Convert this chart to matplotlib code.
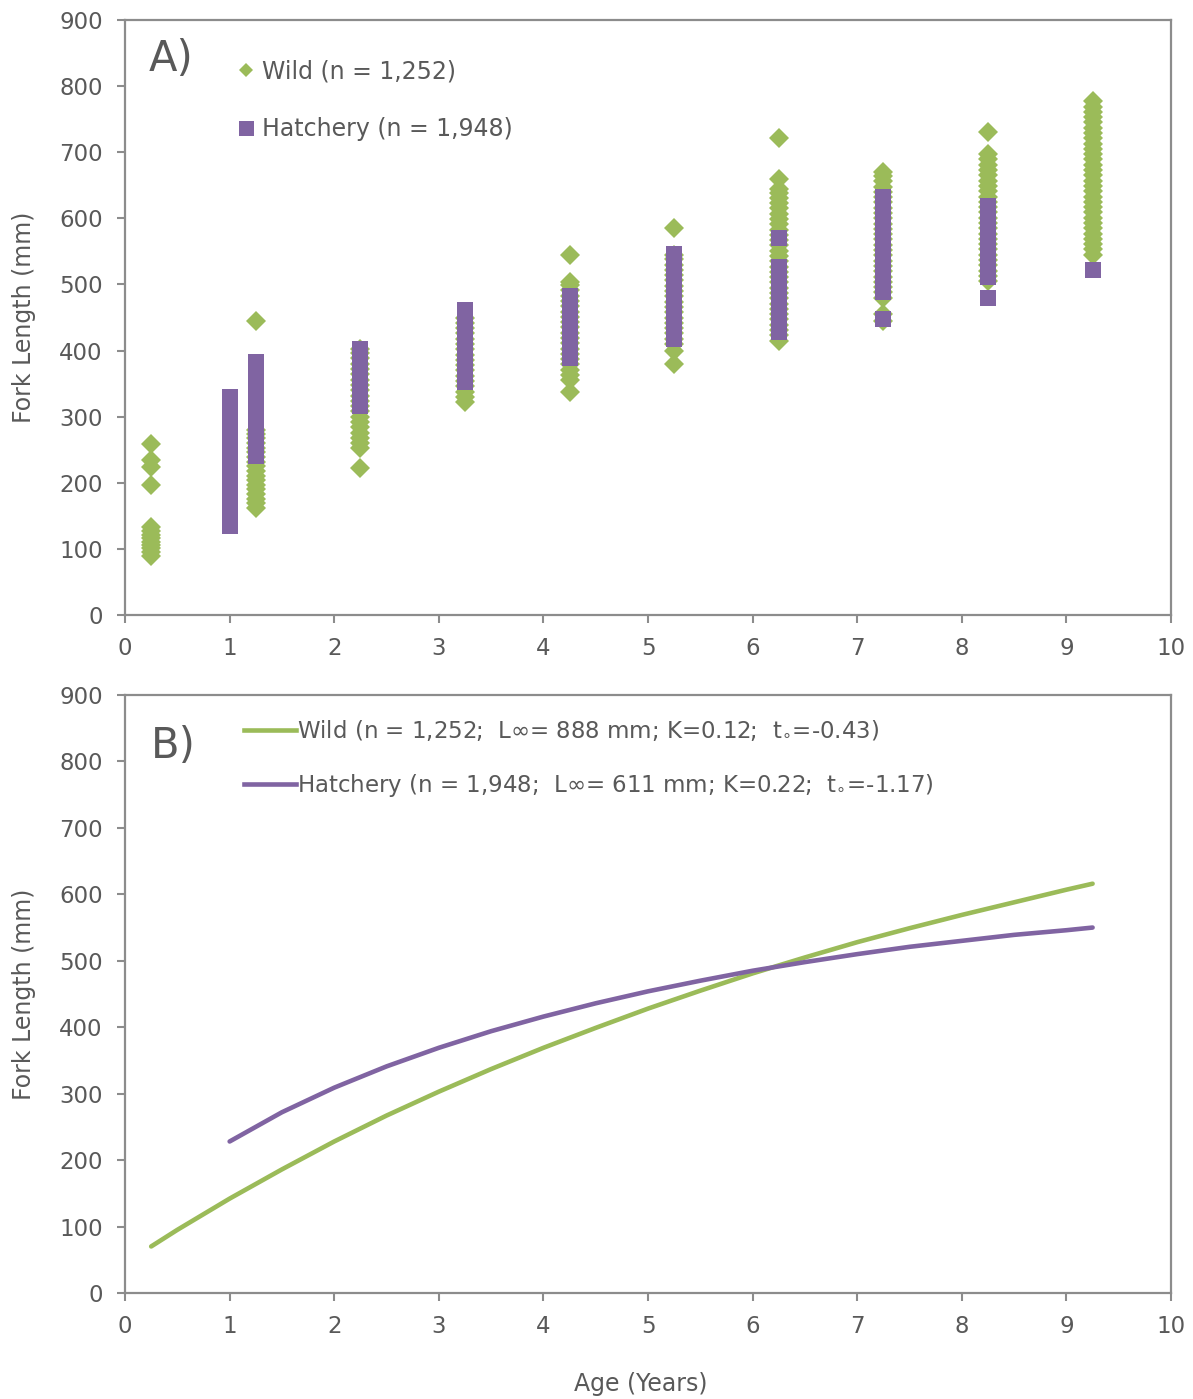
import numpy as np
import matplotlib.pyplot as plt
from matplotlib.lines import Line2D

# ---- data ----
wild_ages = [0.25, 1.25, 2.25, 3.25, 4.25, 5.25, 6.25, 7.25, 8.25, 9.25]
wild_lengths = [
    [90, 96, 101, 106, 111, 116, 121, 127, 133, 197, 224, 235, 258],
    [162, 169, 176, 183, 190, 197, 204, 211, 218, 225, 232, 239, 246, 253, 260, 267, 274, 280, 445],
    [222, 252, 260, 268, 276, 284, 292, 300, 308, 316, 324, 332, 340, 348, 356, 364, 372, 380, 388, 396, 403],
    [322, 330, 338, 346, 354, 362, 370, 378, 386, 394, 402, 410, 418, 426, 434, 442, 450],
    [337, 355, 363, 371, 379, 387, 395, 403, 411, 419, 427, 435, 443, 451, 459, 467, 475, 483, 491, 499, 503, 545],
    [380, 400, 410, 418, 426, 434, 442, 450, 458, 466, 474, 482, 490, 498, 506, 514, 522, 530, 538, 545, 585],
    [415, 423, 431, 439, 447, 455, 463, 471, 479, 487, 495, 503, 511, 519, 527, 535, 543, 551, 559, 567,
     575, 583, 591, 599, 607, 615, 623, 631, 639, 645, 660, 722],
    [445, 455, 480, 488, 496, 504, 512, 520, 528, 536, 544, 552, 560, 568, 576, 584, 592, 600, 608, 616,
     624, 632, 640, 648, 656, 664, 670],
    [505, 513, 521, 529, 537, 545, 553, 561, 569, 577, 585, 593, 601, 609, 617, 625, 633, 641, 649, 657,
     665, 673, 681, 689, 697, 730],
    [545, 553, 561, 569, 577, 585, 593, 601, 609, 617, 625, 633, 641, 649, 657, 665, 673, 681, 689, 697,
     705, 713, 721, 729, 737, 745, 753, 761, 769, 778],
]

hatch_ages = [1.0, 1.25, 2.25, 3.25, 4.25, 5.25, 6.25, 7.25, 8.25, 9.25]
hatch_lengths = [
    [135, 143, 151, 159, 167, 175, 183, 191, 199, 207, 215, 223, 231, 239, 247, 255, 263, 271, 279, 287,
     295, 303, 311, 319, 330],
    [240, 248, 256, 264, 272, 280, 288, 296, 304, 312, 320, 328, 336, 344, 352, 360, 368, 376, 383],
    [316, 324, 332, 340, 348, 356, 364, 372, 380, 388, 396, 402],
    [352, 360, 368, 376, 384, 392, 400, 408, 416, 424, 432, 440, 448, 456, 462],
    [388, 396, 404, 412, 420, 428, 436, 444, 452, 460, 468, 476, 482],
    [418, 426, 434, 442, 450, 458, 466, 474, 482, 490, 498, 506, 514, 522, 530, 538, 546],
    [428, 436, 444, 452, 460, 468, 476, 484, 492, 500, 508, 516, 526, 570],
    [448, 488, 496, 504, 512, 520, 528, 536, 544, 552, 560, 568, 576, 584, 592, 600, 608, 616, 624, 632],
    [480, 512, 520, 528, 536, 544, 552, 560, 568, 576, 584, 592, 600, 608, 618],
    [522],
]

# growth curves
curve_age_wild = [0.25, 0.5, 1.0, 1.5, 2.0, 2.5, 3.0, 3.5, 4.0, 4.5, 5.0, 5.5, 6.0, 6.5, 7.0, 7.5, 8.0, 8.5, 9.0, 9.25]
curve_fl_wild = [70, 95, 142, 186, 228, 267, 303, 337, 369, 399, 428, 455, 481, 505, 528, 549, 569, 588, 607, 616]
curve_age_hatch = [1.0, 1.5, 2.0, 2.5, 3.0, 3.5, 4.0, 4.5, 5.0, 5.5, 6.0, 6.5, 7.0, 7.5, 8.0, 8.5, 9.0, 9.25]
curve_fl_hatch = [228, 272, 309, 341, 369, 394, 416, 436, 454, 470, 485, 498, 510, 521, 530, 539, 546, 550]

wild_label_a = "Wild (n = 1,252)"
hatch_label_a = "Hatchery (n = 1,948)"
wild_label_b = "Wild (n = 1,252;  L\u221e= 888 mm; K=0.12;  t$_{\\circ}$=-0.43)"
hatch_label_b = "Hatchery (n = 1,948;  L\u221e= 611 mm; K=0.22;  t$_{\\circ}$=-1.17)"

GREEN = "#9BBB59"
PURPLE = "#8064A2"
TEXT = "#595959"
SPINE = "#8C8C8C"

plt.rcParams["font.family"] = ["DejaVu Sans"]
plt.rcParams["mathtext.default"] = "regular"

fig = plt.figure(figsize=(11.93, 13.99), dpi=100)
ax1 = fig.add_axes([0.1048, 0.5604, 0.8768, 0.4253])
ax2 = fig.add_axes([0.1048, 0.0758, 0.8768, 0.4274])


def style_axes(ax):
    ax.set_xlim(0, 10)
    ax.set_ylim(0, 900)
    ax.set_xticks(range(0, 11))
    ax.set_yticks(range(0, 901, 100))
    for s in ax.spines.values():
        s.set_color(SPINE)
        s.set_linewidth(1.6)
    ax.tick_params(direction="out", length=6, width=1.5, color=SPINE,
                   labelcolor=TEXT, labelsize=16.5, pad=10)
    ax.set_ylabel("Fork Length (mm)", color=TEXT, fontsize=17)
    ax.yaxis.set_label_coords(-0.085, 0.5)


# ---- panel A: scatter ----
for age, vals in zip(wild_ages, wild_lengths):
    ax1.plot([age] * len(vals), vals, linestyle="none", marker="D",
             markersize=10, markeredgewidth=0, color=GREEN)
for age, vals in zip(hatch_ages, hatch_lengths):
    ax1.plot([age] * len(vals), vals, linestyle="none", marker="s",
             markersize=11, markeredgewidth=0, color=PURPLE)
style_axes(ax1)

handles_a = [
    Line2D([], [], linestyle="none", marker="D", markersize=7.6, markeredgewidth=0, color=GREEN),
    Line2D([], [], linestyle="none", marker="s", markersize=10.8, markeredgewidth=0, color=PURPLE),
]
leg = ax1.legend(handles_a, [wild_label_a, hatch_label_a], loc="upper left",
                 bbox_to_anchor=(0.1, 0.95), frameon=False, fontsize=17,
                 handlelength=0.6, handletextpad=0.35, labelspacing=1.45, borderaxespad=0)
for t in leg.get_texts():
    t.set_color(TEXT)
ax1.text(0.023, 0.935, "A)", transform=ax1.transAxes, fontsize=30,
         color=TEXT, va="center", ha="left")

# ---- panel B: growth curves ----
ax2.plot(curve_age_wild, curve_fl_wild, color=GREEN, linewidth=3.3, solid_capstyle="round")
ax2.plot(curve_age_hatch, curve_fl_hatch, color=PURPLE, linewidth=3.3, solid_capstyle="round")
style_axes(ax2)
ax2.set_xlabel("Age (Years)", color=TEXT, fontsize=17)
ax2.xaxis.set_label_coords(0.493, -0.132)

handles_b = [
    Line2D([], [], color=GREEN, linewidth=3.3),
    Line2D([], [], color=PURPLE, linewidth=3.3),
]
leg2 = ax2.legend(handles_b, [wild_label_b, hatch_label_b], loc="upper left",
                  bbox_to_anchor=(0.105, 0.975), frameon=False, fontsize=16.5,
                  handlelength=2.25, handletextpad=0.05, labelspacing=1.25, borderaxespad=0)
for t in leg2.get_texts():
    t.set_color(TEXT)
ax2.text(0.025, 0.915, "B)", transform=ax2.transAxes, fontsize=30,
         color=TEXT, va="center", ha="left")

fig.savefig("out.png", dpi=100, facecolor="white")
